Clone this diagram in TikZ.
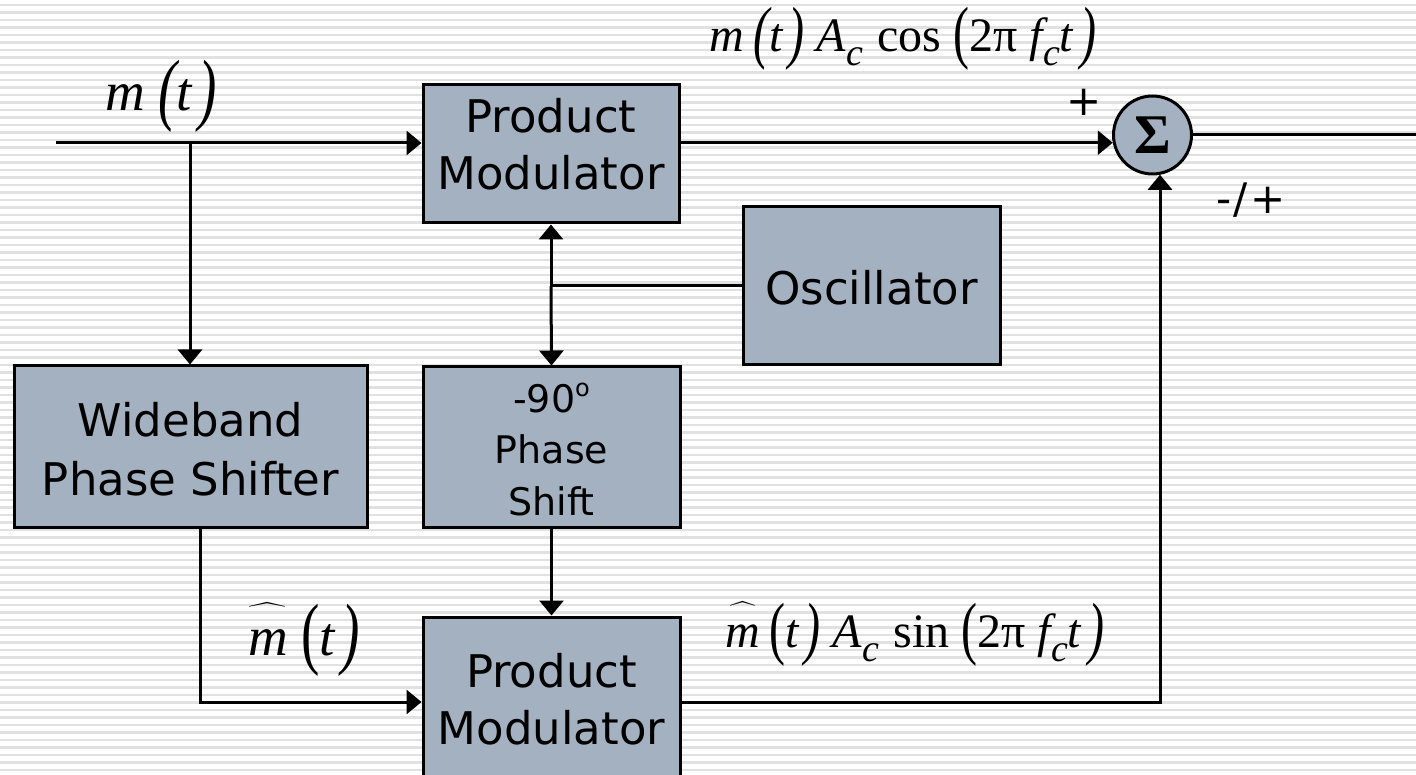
\documentclass[tikz,border=0pt]{standalone}
\usepackage{fontspec}
\usepackage{graphicx}
\usepackage{exscale}
\setsansfont{DejaVu Sans}
\newfontfamily\tms{Liberation Serif}
\usetikzlibrary{arrows.meta,calc}
\definecolor{boxfill}{RGB}{163,177,193}
\definecolor{stripecol}{RGB}{225,225,225}
\newcommand\lpar{\raisebox{-0.08em}{\scalebox{1}[1.45]{(}}}
\newcommand\rpar{\raisebox{-0.08em}{\scalebox{1}[1.45]{)}}}
\newcommand\sbc{\raisebox{-0.28em}{\fontsize{38}{38}\selectfont c}}
\newcommand\mhat{$\widehat{\mbox{\tms\itshape m\rule{0pt}{0.8em}}}$}
\begin{document}
\begin{tikzpicture}[x=1pt,y=-1pt,
  box/.style={draw=black, line width=3pt, fill=boxfill, inner sep=0pt},
  btext/.style={font=\sffamily\fontsize{45}{57}\selectfont, align=center, inner sep=0pt},
  mathlbl/.style={inner sep=0pt, font=\tms\fontsize{48}{52}\selectfont},
  biglbl/.style={inner sep=0pt, font=\tms\fontsize{55}{60}\selectfont},
  signlbl/.style={inner sep=0pt, font=\sffamily\fontsize{42}{42}\selectfont},
  arr/.style={line width=3pt, -{Triangle[length=15pt,width=24pt]}},
  ln/.style={line width=3pt},
  ]
\useasboundingbox (0,0) rectangle (1416,775);
\clip (0,0) rectangle (1416,775);
\fill[white] (0,0) rectangle (1416,775);
\foreach \k in {0,...,103} \draw[stripecol, line width=2.5pt] (0,{5+7.5*\k}) -- (1416,{5+7.5*\k});

% blocks
\node[box, minimum width=256pt, minimum height=138pt] (pm1) at (551,154) {};
\node[btext] (pm1t) at (551,144) {Product\\Modulator};
\node[box, minimum width=257pt, minimum height=158pt] (osc) at (871.5,286) {};
\node[btext] (osct) at (871.5,288) {Oscillator};
\node[box, minimum width=353pt, minimum height=161pt] (wb) at (190.5,446.5) {};
\node[btext, font=\sffamily\fontsize{45}{59}\selectfont] (wbt) at (190.5,449) {Wideband\\Phase Shifter};
\node[box, minimum width=257pt, minimum height=160pt] (ps) at (551.5,447) {};
\node[btext, font=\sffamily\fontsize{38}{51.5}\selectfont] (pst) at (551.5,449.5) {-90\raisebox{0.42em}{\fontsize{24}{24}\selectfont o}\\Phase\\Shift};
\node[box, minimum width=257pt, minimum height=180pt] (pm2) at (551.5,707) {};
\node[btext] (pm2t) at (551.5,699) {Product\\Modulator};
\node[circle, draw=black, line width=3pt, fill=boxfill, minimum size=78pt, inner sep=0pt,
      font=\tms\bfseries\fontsize{56}{56}\selectfont] (sum) at (1152.5,135) {Σ};

% connectors
\coordinate (in) at (56,143);
\coordinate (br) at (190,143);
\draw[arr] (in) -- (in -| pm1.west);
\draw[arr] (br) -- (br |- wb.north);
\coordinate (j) at (pm1.south |- osc.west);
\draw[ln] (osc.west) -- (j);
\draw[arr] (j) -- (pm1.south);
\draw[arr] (j) -- (ps.north);
\draw[arr] (ps.south) -- (pm2.north);
\coordinate (wbo) at (200,702);
\draw[arr] (wbo |- wb.south) -- (wbo) -- (wbo -| pm2.west);
\coordinate (cr) at (1160,702);
\draw[arr] (cr -| pm2.east) -- (cr) -- (cr |- sum.-79);
\draw[arr] (sum.191 -| pm1.east) -- (sum.191);
\coordinate (out) at (1416,137);
\draw[ln] (sum.east) -- (sum.east -| out);

% labels
\node[biglbl] (lm) at (161,96) {\itshape m\kern0.25em\lpar t\kern0.12em\rpar};
\node[biglbl] (lmh) at (304,640) {\mhat\kern0.25em\lpar\itshape t\kern0.12em\rpar};
\node[mathlbl] (lcos) at (903,39) {\itshape m\kern0.2em\lpar t\kern0.12em\rpar\kern0.25em A\sbc\kern0.3em\upshape cos\kern0.25em\lpar 2π\kern0.25em\itshape f\sbc t\kern0.15em\rpar};
\node[mathlbl] (lsin) at (915,634) {\mhat\kern0.2em\lpar\itshape t\kern0.12em\rpar\kern0.25em A\sbc\kern0.3em\upshape sin\kern0.25em\lpar 2π\kern0.25em\itshape f\sbc t\kern0.15em\rpar};
\node[signlbl] (lplus) at (1084,102) {+};
\node[signlbl] (lmp) at (1251,200) {-\kern2pt/\kern2pt+};
\end{tikzpicture}
\end{document}
